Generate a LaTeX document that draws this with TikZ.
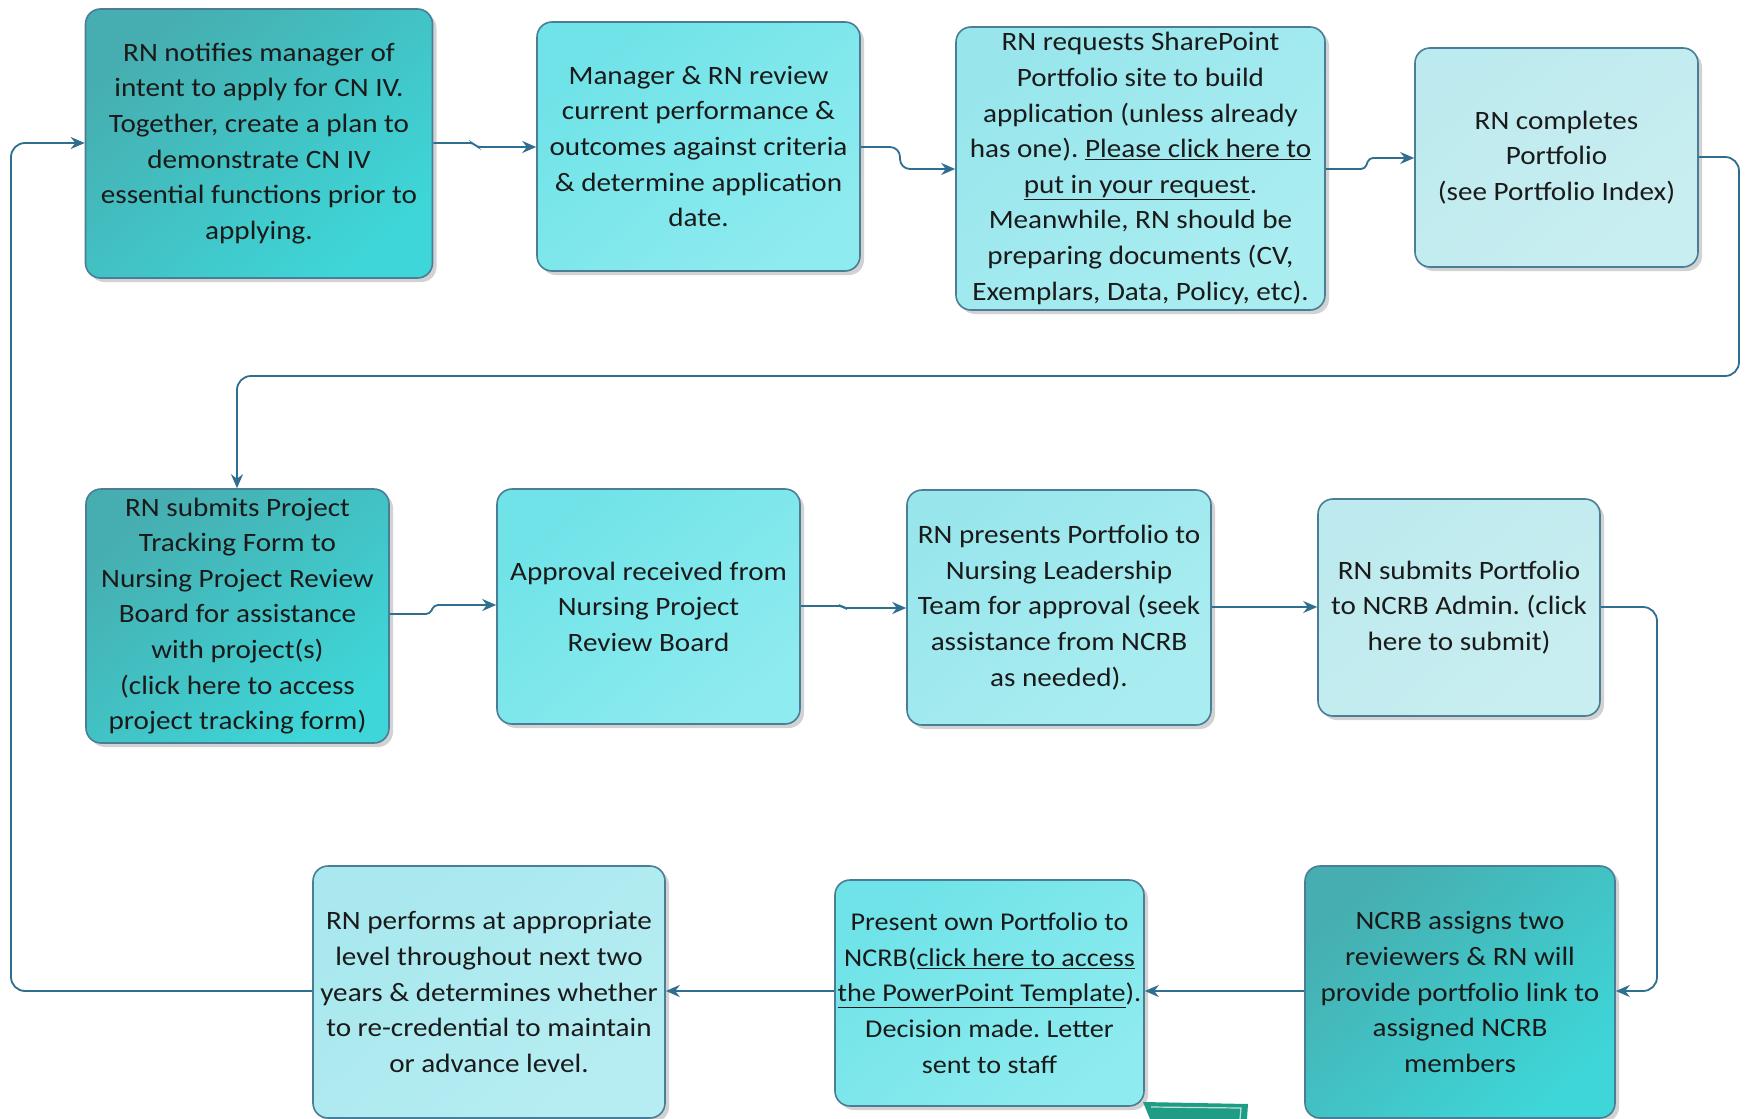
\documentclass[tikz,border=0pt]{standalone}
\usepackage{fontspec}
\setmainfont{Carlito}[FakeStretch=1.1]
\usetikzlibrary{arrows.meta,shadows}
\frenchspacing
\definecolor{edgec}{HTML}{4A7E96}
\definecolor{linec}{HTML}{2F6E8F}
\definecolor{txtc}{HTML}{1A1A1A}
\definecolor{dkA}{HTML}{46AEB0}
\definecolor{dkB}{HTML}{3ED6D8}
\definecolor{mdA}{HTML}{6FE3E8}
\definecolor{mdB}{HTML}{8EEBEF}
\definecolor{ltA}{HTML}{98E6EC}
\definecolor{ltB}{HTML}{AAEDF1}
\definecolor{paA}{HTML}{BDEAEE}
\definecolor{paB}{HTML}{C9EEF1}
\definecolor{pbA}{HTML}{A8E8EE}
\definecolor{pbB}{HTML}{B6EDF2}
\definecolor{stampc}{HTML}{1F9C86}
\tikzset{
  box/.style={draw=edgec, line width=1.6pt, rounded corners=15pt, align=center,
    text=txtc, font=\fontsize{26.5}{35.6}\selectfont\frenchspacing, inner sep=0pt,
    drop shadow={shadow xshift=4pt, shadow yshift=-4pt, opacity=0.35, fill=gray}},
  grad/.style 2 args={top color=#1, bottom color=#2, shading angle=40},
  dark/.style={grad={dkA}{dkB}},
  mid/.style={grad={mdA}{mdB}},
  lite/.style={grad={ltA}{ltB}},
  pale/.style={grad={paA}{paB}},
  paleb/.style={grad={pbA}{pbB}},
  conn/.style={draw=linec, line width=1.8pt, rounded corners=10pt,
    -{Stealth[length=14pt,width=12pt]}}
}
\begin{document}
\begin{tikzpicture}[x=1pt,y=-1pt]
\useasboundingbox (0,0) rectangle (1746,1119);
\fill[white] (0,0) rectangle (1746,1119);
% row 1
\node[box, dark, minimum width=347pt, minimum height=269pt] (n1) at (259,143.5)
 {RN notifies manager of\\ intent to apply for CN IV.\\ Together, create a plan to\\ demonstrate CN IV\\ essential functions prior to\\ applying.};
\node[box, mid, minimum width=323pt, minimum height=249pt] (n2) at (698.5,146.5)
 {Manager \& RN review\\ current performance \&\\ outcomes against criteria\\ \& determine application\\ date.};
\node[box, lite, minimum width=369pt, minimum height=283pt] (n3) at (1140.5,168.5)
 {RN requests SharePoint\\ Portfolio site to build\\ application (unless already\\ has one). \underline{Please click here to}\\ \underline{put in your request}.\\ Meanwhile, RN should be\\ preparing documents (CV,\\ Exemplars, Data, Policy, etc).};
\node[box, pale, minimum width=283pt, minimum height=219pt] (n4) at (1556.5,157.5)
 {RN completes\\ Portfolio\\ (see Portfolio Index)};
% row 2
\node[box, dark, minimum width=303pt, minimum height=254pt] (n5) at (237.5,616)
 {RN submits Project\\ Tracking Form to\\ Nursing Project Review\\ Board for assistance\\ with project(s)\\ (click here to access\\ project tracking form)};
\node[box, mid, minimum width=303pt, minimum height=235pt] (n6) at (648.5,606.5)
 {Approval received from\\ Nursing Project\\ Review Board};
\node[box, lite, minimum width=304pt, minimum height=235pt] (n7) at (1059,607.5)
 {RN presents Portfolio to\\ Nursing Leadership\\ Team for approval (seek\\ assistance from NCRB\\ as needed).};
\node[box, pale, minimum width=282pt, minimum height=217pt] (n8) at (1459,607.5)
 {RN submits Portfolio\\ to NCRB Admin. (click\\ here to submit)};
% row 3
\node[box, dark, minimum width=310pt, minimum height=252pt] (n9) at (1460,992)
 {NCRB assigns two\\ reviewers \& RN will\\ provide portfolio link to\\ assigned NCRB\\ members};
\node[box, mid, minimum width=309pt, minimum height=226pt, font=\fontsize{25.6}{35.6}\selectfont\frenchspacing] (n10) at (989.5,993)
 {Present own Portfolio to\\ NCRB(\underline{click here to access}\\ \underline{the PowerPoint Template}).\\ Decision made. Letter\\ sent to staff};
\node[box, paleb, minimum width=352pt, minimum height=252pt] (n11) at (489,992)
 {RN performs at appropriate\\ level throughout next two\\ years \& determines whether\\ to re-credential to maintain\\ or advance level.};
% stamp fragment
\fill[stampc] (1143,1102) -- (1248,1104) -- (1247,1119) -- (1150,1119) -- cycle;
\draw[white, line width=1.2pt, opacity=0.7] (1151,1107) -- (1241,1108) -- (1240,1119);
% connectors
\draw[conn, rounded corners=3pt] (n1.east |- 0,143) -- (473,143) -- (477,147) -- (n2.west |- 0,147);
\draw[conn] (n2.east |- 0,147) -- (900,147) -- (900,169) -- (n3.west |- 0,169);
\draw[conn, rounded corners=4pt] (n3.east |- 0,169) -- (1365,169) -- (1369,158) -- (n4.west |- 0,158);
\draw[conn, rounded corners=14pt] (n4.east |- 0,157) -- (1739,157) -- (1739,376) -- (237,376) -- (n5.north -| 237,0);
\draw[conn, rounded corners=4pt] (n5.east |- 0,614) -- (430,614) -- (434,605) -- (n6.west |- 0,605);
\draw[conn, rounded corners=2pt] (n6.east |- 0,606) -- (842,606) -- (844,608) -- (n7.west |- 0,608);
\draw[conn] (n7.east |- 0,607) -- (n8.west |- 0,607);
\draw[conn, rounded corners=14pt] (n8.east |- 0,607) -- (1657,607) -- (1657,991) -- (n9.east |- 0,991);
\draw[conn] (n9.west |- 0,991) -- (n10.east |- 0,991);
\draw[conn] (n10.west |- 0,991) -- (n11.east |- 0,991);
\draw[conn, rounded corners=14pt] (n11.west |- 0,991) -- (11,991) -- (11,143) -- (n1.west |- 0,143);
\end{tikzpicture}
\end{document}
